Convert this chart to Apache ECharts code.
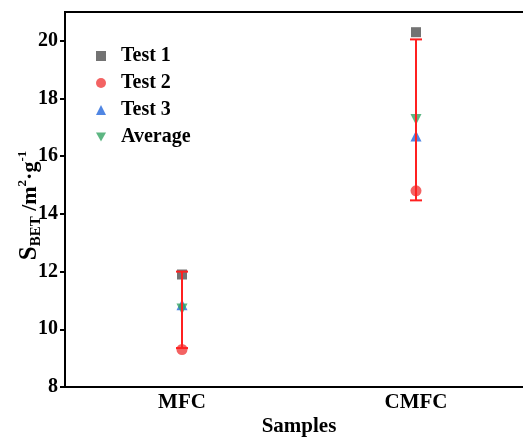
<!DOCTYPE html>
<html>
<head>
<meta charset="utf-8">
<script src="https://cdn.jsdelivr.net/npm/echarts@6/dist/echarts.min.js"></script>
<style>
  html, body { margin: 0; padding: 0; background: #fff; }
  #chart { width: 523px; height: 437px; }
</style>
</head>
<body>
<div id="chart"></div>
<script>
const samples = ['MFC', 'CMFC'];
const test1 = [11.9, 20.3];
const test2 = [9.3, 14.8];
const test3 = [10.85, 16.7];
const average = [10.7, 17.27];
const errLow = [9.35, 14.47];
const errHigh = [12.0, 20.05];

const font = 'Liberation Serif';

const chart = echarts.init(document.getElementById('chart'));

const errorData = samples.map((s, i) => [i, errLow[i], errHigh[i]]);

const option = {
  animation: false,
  textStyle: { fontFamily: font },
  grid: {
    left: 65,
    top: 12,
    right: -10,
    bottom: 50,
    outerBoundsMode: 'none',
    containLabel: false,
    show: true,
    borderColor: '#000',
    borderWidth: 2,
  },
  legend: {
    orient: 'vertical',
    left: 91,
    top: 41,
    itemWidth: 10,
    itemHeight: 10,
    itemGap: 7,
    textStyle: { fontFamily: font, fontSize: 20, fontWeight: 'bold', color: '#000', padding: [0, 0, 0, 10] },
    data: [
      { name: 'Test 1' },
      { name: 'Test 2' },
      { name: 'Test 3' },
      { name: 'Average', icon: 'path://M0,0 L10,0 L5,9 Z' },
    ],
  },
  xAxis: {
    type: 'category',
    data: samples,
    name: 'Samples',
    nameLocation: 'middle',
    nameGap: 29,
    nameMoveOverlap: false,
    nameTextStyle: { fontFamily: font, fontSize: 21, fontWeight: 'bold', color: '#000' },
    axisLine: { lineStyle: { color: '#000', width: 2 } },
    axisTick: { inside: true, alignWithLabel: true, length: 7, lineStyle: { width: 2 } },
    axisLabel: { fontFamily: font, fontSize: 21, fontWeight: 'bold', color: '#000', margin: 5 },
    splitLine: { show: false },
  },
  yAxis: {
    type: 'value',
    min: 8,
    max: 21,
    interval: 2,
    name: '{s|S}{sub|BET}{n| /m}{sup|2}{n|·g}{sup|-1}',
    nameLocation: 'middle',
    nameGap: 21,
    nameMoveOverlap: false,
    nameTextStyle: {
      padding: [0, 12, 0, 0],
      rich: {
        s: { fontFamily: font, fontSize: 25, fontWeight: 'bold', color: '#000', lineHeight: 28, verticalAlign: 'middle' },
        n: { fontFamily: font, fontSize: 22, fontWeight: 'bold', color: '#000', lineHeight: 28, verticalAlign: 'middle' },
        sub: { fontFamily: font, fontSize: 15, fontWeight: 'bold', color: '#000', lineHeight: 15, verticalAlign: 'bottom' },
        sup: { fontFamily: font, fontSize: 13, fontWeight: 'bold', color: '#000', lineHeight: 13, verticalAlign: 'top' },
      },
    },
    axisLine: { show: true, lineStyle: { color: '#000', width: 2 } },
    axisTick: { show: true, length: 5, lineStyle: { width: 2 } },
    axisLabel: { fontFamily: font, fontSize: 20, fontWeight: 'bold', color: '#000', margin: 7, showMaxLabel: false },
    splitLine: { show: false },
  },
  series: [
    {
      name: 'Test 1', type: 'scatter', data: test1,
      symbol: 'rect', symbolSize: 10, itemStyle: { color: '#505050' }, z: 2,
    },
    {
      name: 'Test 2', type: 'scatter', data: test2,
      symbol: 'circle', symbolSize: 11, itemStyle: { color: '#f03c3c' }, z: 2,
    },
    {
      name: 'Test 3', type: 'scatter', data: test3,
      symbol: 'triangle', symbolSize: 11, itemStyle: { color: '#2468dc' }, z: 2,
    },
    {
      name: 'Average', type: 'scatter', data: average,
      symbol: 'triangle', symbolRotate: 180, symbolSize: 11, itemStyle: { color: '#35a463' }, z: 2,
    },
    {
      type: 'custom',
      name: 'error',
      z: 5,
      data: errorData,
      renderItem: (params, api) => {
        const x = api.value(0);
        const lo = api.coord([x, api.value(1)]);
        const hi = api.coord([x, api.value(2)]);
        const half = 6;
        const style = { stroke: '#ff2020', lineWidth: 2 };
        return {
          type: 'group',
          children: [
            { type: 'line', shape: { x1: lo[0], y1: lo[1], x2: hi[0], y2: hi[1] }, style },
            { type: 'line', shape: { x1: lo[0] - half, y1: lo[1], x2: lo[0] + half, y2: lo[1] }, style },
            { type: 'line', shape: { x1: hi[0] - half, y1: hi[1], x2: hi[0] + half, y2: hi[1] }, style },
          ],
        };
      },
    },
  ],
};

chart.setOption(option);
</script>
</body>
</html>
